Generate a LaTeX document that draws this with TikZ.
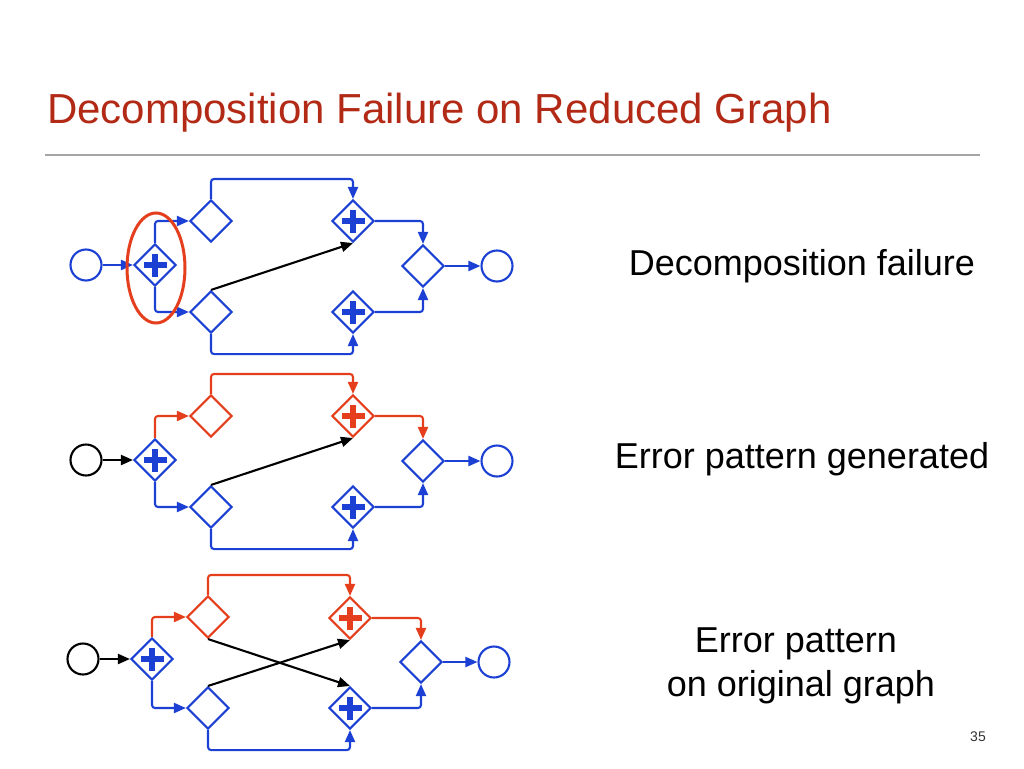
\documentclass[tikz,border=0pt]{standalone}
\usepackage{fontspec}
\setmainfont{Liberation Sans}
\usepackage{tikz}
\usetikzlibrary{shapes.geometric, arrows.meta, positioning, calc}
\definecolor{bpmnblue}{RGB}{28,64,212}
\definecolor{bpmnred}{RGB}{228,62,28}
\definecolor{titlered}{RGB}{178,42,22}
\definecolor{rulegray}{RGB}{165,165,165}
\tikzset{
  %% ---- gateways and events ----
  gw/.style     = {diamond, draw=#1, line width=2.1pt, fill=white,
                   minimum width=42pt, minimum height=42pt, inner sep=0pt},
  gw/.default   = bpmnblue,
  andgw/.style  = {gw=#1, path picture={
                     \fill[#1] ([xshift=-11.5pt,yshift=-2.8pt]path picture bounding box.center)
                        rectangle ([xshift=11.5pt,yshift=2.8pt]path picture bounding box.center);
                     \fill[#1] ([xshift=-2.8pt,yshift=-11.5pt]path picture bounding box.center)
                        rectangle ([xshift=2.8pt,yshift=11.5pt]path picture bounding box.center);}},
  andgw/.default = bpmnblue,
  event/.style  = {circle, draw=#1, line width=2.1pt, fill=white,
                   minimum size=31pt, inner sep=0pt},
  event/.default = bpmnblue,
  %% ---- arrows ----
  flow/.style   = {-{Triangle[length=12pt,width=10pt]}, line width=2.1pt,
                   draw=#1, rounded corners=3pt},
  flow/.default = bpmnblue,
  %% ---- texts ----
  caption/.style = {font=\fontsize{36pt}{44pt}\selectfont, inner sep=0pt,
                    align=center},
}

\begin{document}
\begin{tikzpicture}[x=1pt, y=-1pt]
  \useasboundingbox (0,0) rectangle (1024,768);

  \node[anchor=base west, inner sep=0pt, text=titlered,
        font=\fontsize{42pt}{48pt}\selectfont] (title) at (47,123)
    {Decomposition Failure on Reduced Graph};
  \draw[rulegray, line width=1.5pt] (45,155) -- (980,155);

  %% ---- reduced graph, failure ----
  \begin{scope}[shift={(155,265)}]
    \node[event] (s1) at (-69,0) {};
    \node[andgw] (split1) at (0,0) {};
    \node[gw] (xu1) at (56,-44) {};
    \node[gw] (xl1) at (56,47) {};
    \node[andgw] (au1) at (198,-44) {};
    \node[andgw] (al1) at (198,47) {};
    \node[gw] (join1) at (268,1) {};
    \node[event] (e1) at (342,1) {};

    \draw[flow] (s1) -- (split1);
    \draw[flow] (split1.north) |- (xu1.west);
    \draw[flow] (split1.south) |- (xl1.west);
    \draw[flow] (xu1.north) -- ++(0,-20) -| (au1.north);
    \draw[flow] (xl1.south) -- ++(0,20) -| (al1.south);
    \draw[flow=black] (xl1.north) -- (au1.south);
    \draw[flow] (au1.east) -| (join1.north);
    \draw[flow] (al1.east) -| (join1.south);
    \draw[flow] (join1) -- (e1);

    \node[ellipse, draw=bpmnred, line width=3pt, minimum width=58pt,
          minimum height=110pt, inner sep=0pt] (focus) at (1,3) {};
  \end{scope}

  %% ---- error pattern ----
  \begin{scope}[shift={(155,460)}]
    \node[event=black] (s2) at (-69,0) {};
    \node[andgw] (split2) at (0,0) {};
    \node[gw=bpmnred] (xu2) at (56,-44) {};
    \node[gw] (xl2) at (56,47) {};
    \node[andgw=bpmnred] (au2) at (198,-44) {};
    \node[andgw] (al2) at (198,47) {};
    \node[gw] (join2) at (268,1) {};
    \node[event] (e2) at (342,1) {};

    \draw[flow=black] (s2) -- (split2);
    \draw[flow=bpmnred] (split2.north) |- (xu2.west);
    \draw[flow] (split2.south) |- (xl2.west);
    \draw[flow=bpmnred] (xu2.north) -- ++(0,-20) -| (au2.north);
    \draw[flow] (xl2.south) -- ++(0,20) -| (al2.south);
    \draw[flow=black] (xl2.north) -- (au2.south);
    \draw[flow=bpmnred] (au2.east) -| (join2.north);
    \draw[flow] (al2.east) -| (join2.south);
    \draw[flow] (join2) -- (e2);
  \end{scope}

  %% ---- error pattern on original graph ----
  \begin{scope}[shift={(152,660)}]
    \node[event=black] (s3) at (-69,-1) {};
    \node[andgw] (split3) at (0,-1) {};
    \node[gw=bpmnred] (xu3) at (56,-43) {};
    \node[gw] (xl3) at (56,48) {};
    \node[andgw=bpmnred] (au3) at (198,-42) {};
    \node[andgw] (al3) at (198,48) {};
    \node[gw] (join3) at (269,2) {};
    \node[event] (e3) at (342,2) {};

    \draw[flow=black] (s3) -- (split3);
    \draw[flow=bpmnred] (split3.north) |- (xu3.west);
    \draw[flow] (split3.south) |- (xl3.west);
    \draw[flow=bpmnred] (xu3.north) -- ++(0,-20) -| (au3.north);
    \draw[flow] (xl3.south) -- ++(0,20) -| (al3.south);
    \draw[flow=black] (xu3.south) -- (al3.north);
    \draw[flow=black] (xl3.north) -- (au3.south);
    \draw[flow=bpmnred] (au3.east) -| (join3.north);
    \draw[flow] (al3.east) -| (join3.south);
    \draw[flow] (join3) -- (e3);
  \end{scope}

  \node[caption, anchor=base] (cap1) at (802,275) {Decomposition failure};
  \node[caption, anchor=base] (cap2) at (802,468) {Error pattern generated};
  \node[caption] (cap3) at (801,666)
    {Error pattern\kern0.28em\\on original graph};

  \node[font=\fontsize{14pt}{16pt}\selectfont, text=black!80] (page) at (978,737) {35};
\end{tikzpicture}
\end{document}
